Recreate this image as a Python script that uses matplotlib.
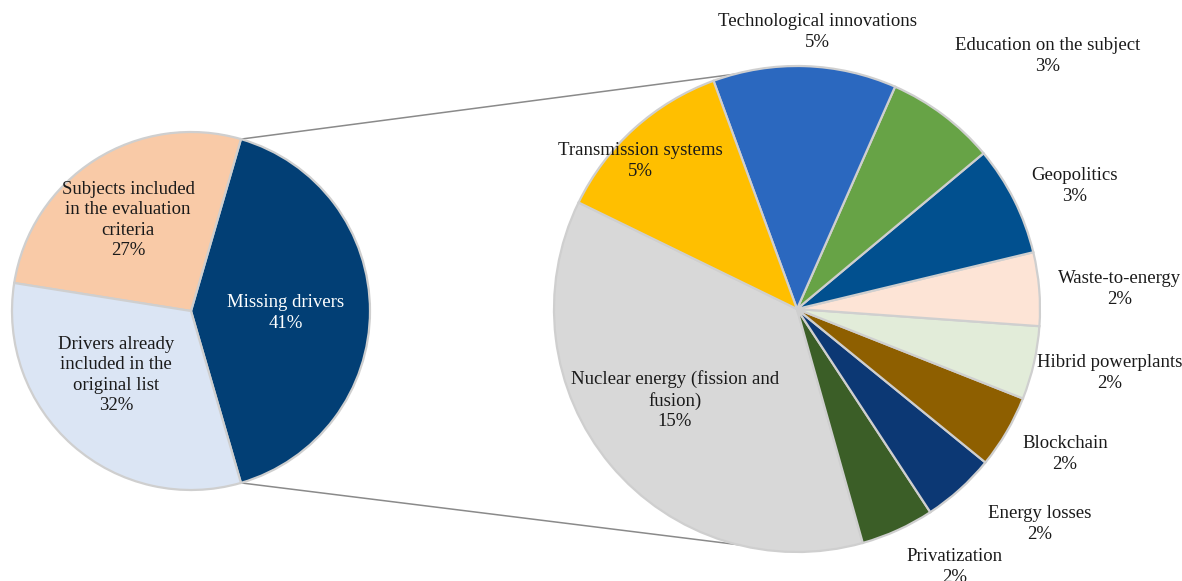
#!/usr/bin/env python3
"""Pie-of-pie chart: share of missing drivers broken down by topic."""
import numpy as np
import matplotlib
matplotlib.use("Agg")
import matplotlib.pyplot as plt

W, H = 1182, 581

# main pie (counterclockwise from the split wedge)
main_labels = ["Missing drivers",
               "Subjects included\nin the evaluation\ncriteria",
               "Drivers already\nincluded in the\noriginal list"]
main_values = [41, 27, 32]
main_colors = ["#023f75", "#f9caa7", "#dbe5f4"]

# breakdown of the "Missing drivers" wedge
sub_labels = ["Nuclear energy (fission and\nfusion)", "Privatization", "Energy losses",
              "Blockchain", "Hibrid powerplants", "Waste-to-energy", "Geopolitics",
              "Education on the subject", "Technological innovations",
              "Transmission systems"]
sub_values = [15, 2, 2, 2, 2, 2, 3, 3, 5, 5]
sub_colors = ["#d8d8d8", "#3b5e27", "#0c3874", "#8e5f00", "#e2ecd9", "#fde4d6",
              "#01508f", "#67a346", "#2b68bf", "#ffbf00"]

# label anchor points in pixel coordinates (x, y from top)
main_pos = [(286, 313), (128, 220), (116, 375)]
main_txt = ["white", "#1a1a1a", "#1a1a1a"]
sub_pos = [(675, 400), (955, 567), (1040, 524), (1065, 454), (1110, 373),
           (1120, 289), (1075, 186), (1048, 56), (817, 32), (640, 161)]

plt.rcParams["font.family"] = ["Liberation Serif", "DejaVu Serif"]

fig = plt.figure(figsize=(W / 100, H / 100), dpi=100)
ax = fig.add_axes([0, 0, 1, 1])


def py(y):
    return H - y


c1, r1 = (191, py(311)), 179
c2, r2 = (797, py(309)), 243

start1 = -main_values[0] / sum(main_values) * 180
wedge_style = dict(edgecolor="#cfcfcf", linewidth=1.6)

ax.pie(main_values, colors=main_colors, startangle=start1, counterclock=True,
       center=c1, radius=r1, wedgeprops=wedge_style, frame=True)
ax.pie(sub_values, colors=sub_colors, startangle=154, counterclock=True,
       center=c2, radius=r2, wedgeprops=wedge_style, frame=True)

# connector lines from the split wedge to the top/bottom of the second pie
for sgn in (1, -1):
    a = np.deg2rad(sgn * abs(start1))
    x0, y0 = c1[0] + r1 * np.cos(a), c1[1] + r1 * np.sin(a)
    ax.plot([x0, c2[0]], [y0, c2[1] + sgn * r2], color="#8a8a8a", lw=1.1, zorder=0)

txt = dict(ha="center", va="center", fontsize=13.5, linespacing=1.27)
for lab, v, (x, y), col in zip(main_labels, main_values, main_pos, main_txt):
    ax.text(x, py(y), f"{lab}\n{v}%", color=col, **txt)
for lab, v, (x, y) in zip(sub_labels, sub_values, sub_pos):
    ax.text(x, py(y), f"{lab}\n{v}%", color="#1a1a1a", **txt)

ax.set_xlim(0, W)
ax.set_ylim(0, H)
ax.set_aspect("equal")
ax.axis("off")

fig.savefig("out.png", dpi=100)
